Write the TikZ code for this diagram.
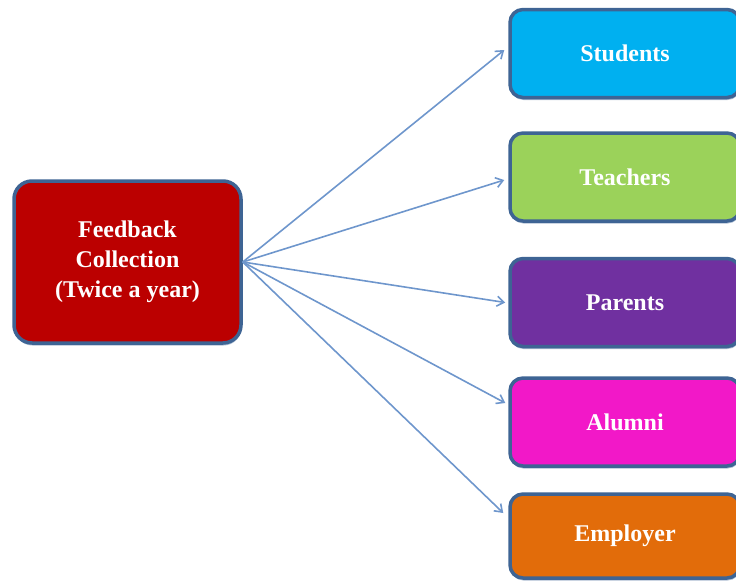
\documentclass[tikz,border=0pt]{standalone}
\usepackage{fontspec}
\setmainfont{Liberation Serif}
\usepackage{xcolor}
\usetikzlibrary{positioning,calc,arrows.meta,shadows}

\definecolor{edgeblue}{RGB}{62,100,148}
\definecolor{arrowblue}{RGB}{110,150,204}
\definecolor{feedred}{RGB}{187,0,0}
\definecolor{studcyan}{RGB}{0,176,240}
\definecolor{teachgreen}{RGB}{155,210,90}
\definecolor{parpurple}{RGB}{112,48,160}
\definecolor{alummagenta}{RGB}{242,24,200}
\definecolor{emporange}{RGB}{226,108,10}

\begin{document}
\begin{tikzpicture}[x=1pt,y=-1pt,
    card/.style={draw=edgeblue, line width=3.5pt, rounded corners=13pt,
        text=white, font=\fontsize{24}{30}\selectfont\bfseries, align=center,
        drop shadow={shadow xshift=0.5pt, shadow yshift=-2.5pt, fill=edgeblue!60, opacity=0.7}},
    group/.style={card, minimum width=230pt, minimum height=88pt},
    flow/.style={draw=arrowblue, line width=1.6pt, -{Straight Barb[length=7pt,width=10pt]}}]
    \useasboundingbox (0,0) rectangle (736,582);

    % Source box
    \node[card, fill=feedred, minimum width=227pt, minimum height=162pt,
        rounded corners=18pt] (feedback) at (127.5,262) {Feedback\\Collection\\(Twice a year)};

    % Stakeholders (cut off by the right edge)
    \node[group, fill=studcyan] (students) at (625,53.5) {Students};
    \node[group, fill=teachgreen] (teachers) at (625,177) {Teachers};
    \node[group, fill=parpurple] (parents) at (625,302.5) {Parents};
    \node[group, fill=alummagenta] (alumni) at (625,422) {Alumni};
    \node[group, fill=emporange, minimum height=84pt] (employer) at (625,536) {Employer};

    % Arrows
    \draw[flow] (feedback.east) -- ([shift={(-4,-3.5)}]students.west);
    \draw[flow] (feedback.east) -- ([shift={(-4,3)}]teachers.west);
    \draw[flow] (feedback.east) -- ([shift={(-3,0)}]parents.west);
    \draw[flow] (feedback.east) -- ([shift={(-3,-19)}]alumni.west);
    \draw[flow] (feedback.east) -- ([shift={(-5,-23)}]employer.west);
\end{tikzpicture}
\end{document}
